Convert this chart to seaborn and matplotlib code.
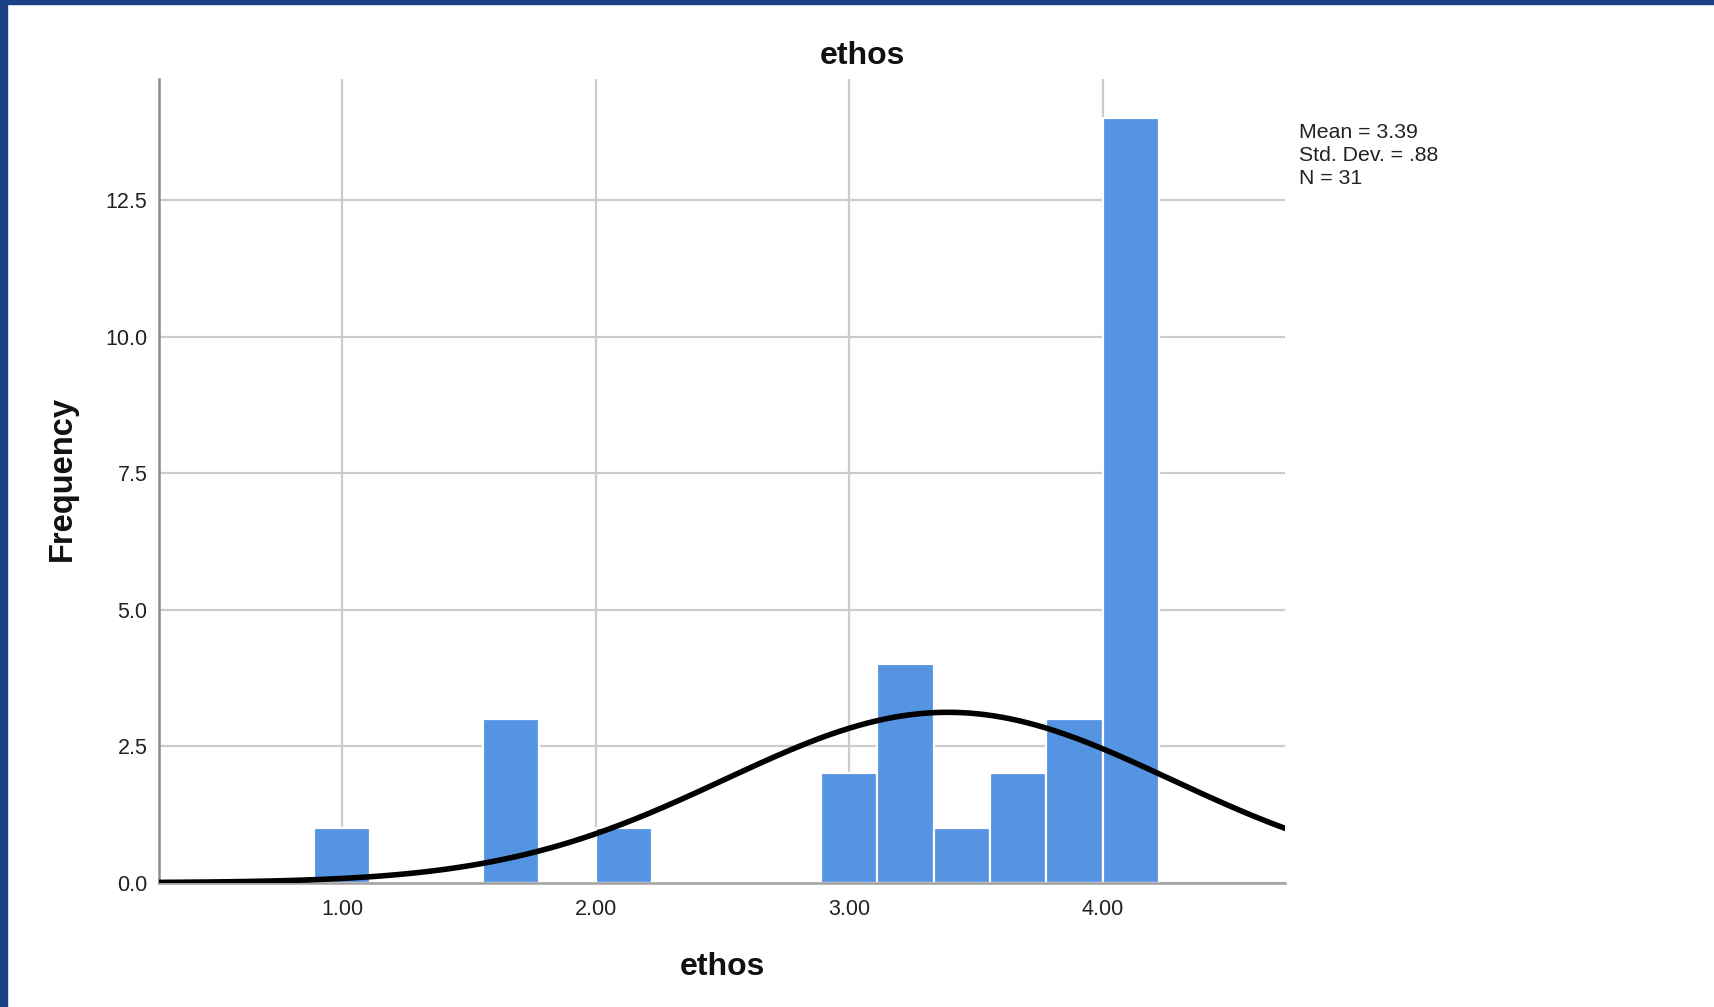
import numpy as np
import pandas as pd
import matplotlib
matplotlib.use("Agg")
import matplotlib.pyplot as plt
import seaborn as sns
from matplotlib.patches import Rectangle

# Histogram of the "ethos" scale score
bin_edges = [0.889, 1.111, 1.333, 1.556, 1.778, 2.000, 2.222, 2.444,
             2.667, 2.889, 3.111, 3.333, 3.556, 3.778, 4.000, 4.222]
bin_counts = [1, 0, 0, 3, 0, 1, 0, 0, 0, 2, 4, 1, 2, 3, 14]

x_ticks = [1.0, 2.0, 3.0, 4.0]
x_tick_labels = ["1.00", "2.00", "3.00", "4.00"]
y_ticks = [0.0, 2.5, 5.0, 7.5, 10.0, 12.5]
y_tick_labels = ["0.0", "2.5", "5.0", "7.5", "10.0", "12.5"]

stat_mean = 3.39
stat_sd = 0.88
stat_n = 31

W, H = 1715, 1007
DPI = 100

sns.set_theme(style="white")
plt.rcParams["font.family"] = ["Liberation Sans", "DejaVu Sans"]

fig = plt.figure(figsize=(W / DPI, H / DPI), dpi=DPI, facecolor="white")

# dark blue frame along the top and left edges
frame_color = "#1b4086"
fig.patches.append(Rectangle((0, 1 - 4 / H), 1, 4 / H, transform=fig.transFigure,
                             color=frame_color, zorder=10))
fig.patches.append(Rectangle((0, 0), 7 / W, 1, transform=fig.transFigure,
                             color=frame_color, zorder=10))

left, right = 158.6 / W, 1285 / W
bottom, top = 1 - 882.7 / H, 1 - 78.8 / H
ax = fig.add_axes([left, bottom, right - left, top - bottom])

df = pd.DataFrame({
    "center": [(a + b) / 2 for a, b in zip(bin_edges[:-1], bin_edges[1:])],
    "count": bin_counts,
})
sns.histplot(data=df, x="center", weights="count", bins=bin_edges, ax=ax,
             color="#5594e2", alpha=1.0, edgecolor="white", linewidth=1.6,
             zorder=2)

# normal curve scaled to the histogram counts
xmin, xmax = 0.275, 4.72
bin_width = bin_edges[1] - bin_edges[0]
xs = np.linspace(xmin, xmax, 400)
ys = stat_n * bin_width * np.exp(-0.5 * ((xs - stat_mean) / stat_sd) ** 2) / (stat_sd * np.sqrt(2 * np.pi))
sns.lineplot(x=xs, y=ys, ax=ax, color="black", linewidth=4.0, zorder=4)

ax.set_xlim(xmin, xmax)
ax.set_ylim(0, 14.72)
ax.set_xticks(x_ticks)
ax.set_xticklabels(x_tick_labels)
ax.set_yticks(y_ticks)
ax.set_yticklabels(y_tick_labels)
ax.tick_params(axis="both", length=0, labelsize=15.5, labelcolor="#222222")
ax.tick_params(axis="x", pad=12)
ax.tick_params(axis="y", pad=8)
ax.set_xlabel("")
ax.set_ylabel("")

ax.set_axisbelow(True)
ax.grid(True, color="#cccccc", linewidth=1.6)
for side in ["top", "right"]:
    ax.spines[side].set_visible(False)
ax.spines["left"].set_color("#8c8c8c")
ax.spines["left"].set_linewidth(1.8)
ax.spines["bottom"].set_color("#a0a0a0")
ax.spines["bottom"].set_linewidth(1.8)

# titles
fig.text(862 / W, 1 - 56 / H, "ethos", ha="center", va="center",
         fontsize=23, fontweight="bold", color="#111111")
fig.text(722 / W, 1 - 967 / H, "ethos", ha="center", va="center",
         fontsize=23, fontweight="bold", color="#111111")
fig.text(62 / W, 1 - 479 / H, "Frequency", ha="center", va="center",
         rotation=90, fontsize=23.5, fontweight="bold", color="#111111")

# summary statistics
stats_lines = [f"Mean = {stat_mean:.2f}", f"Std. Dev. = {stat_sd:.2f}".replace("0.", "."),
               f"N = {stat_n}"]
for i, line in enumerate(stats_lines):
    fig.text(1299 / W, 1 - (133 + 22.5 * i) / H, line, ha="left", va="center",
             fontsize=15.3, color="#222222")

fig.savefig("out.png", dpi=DPI, facecolor="white")
